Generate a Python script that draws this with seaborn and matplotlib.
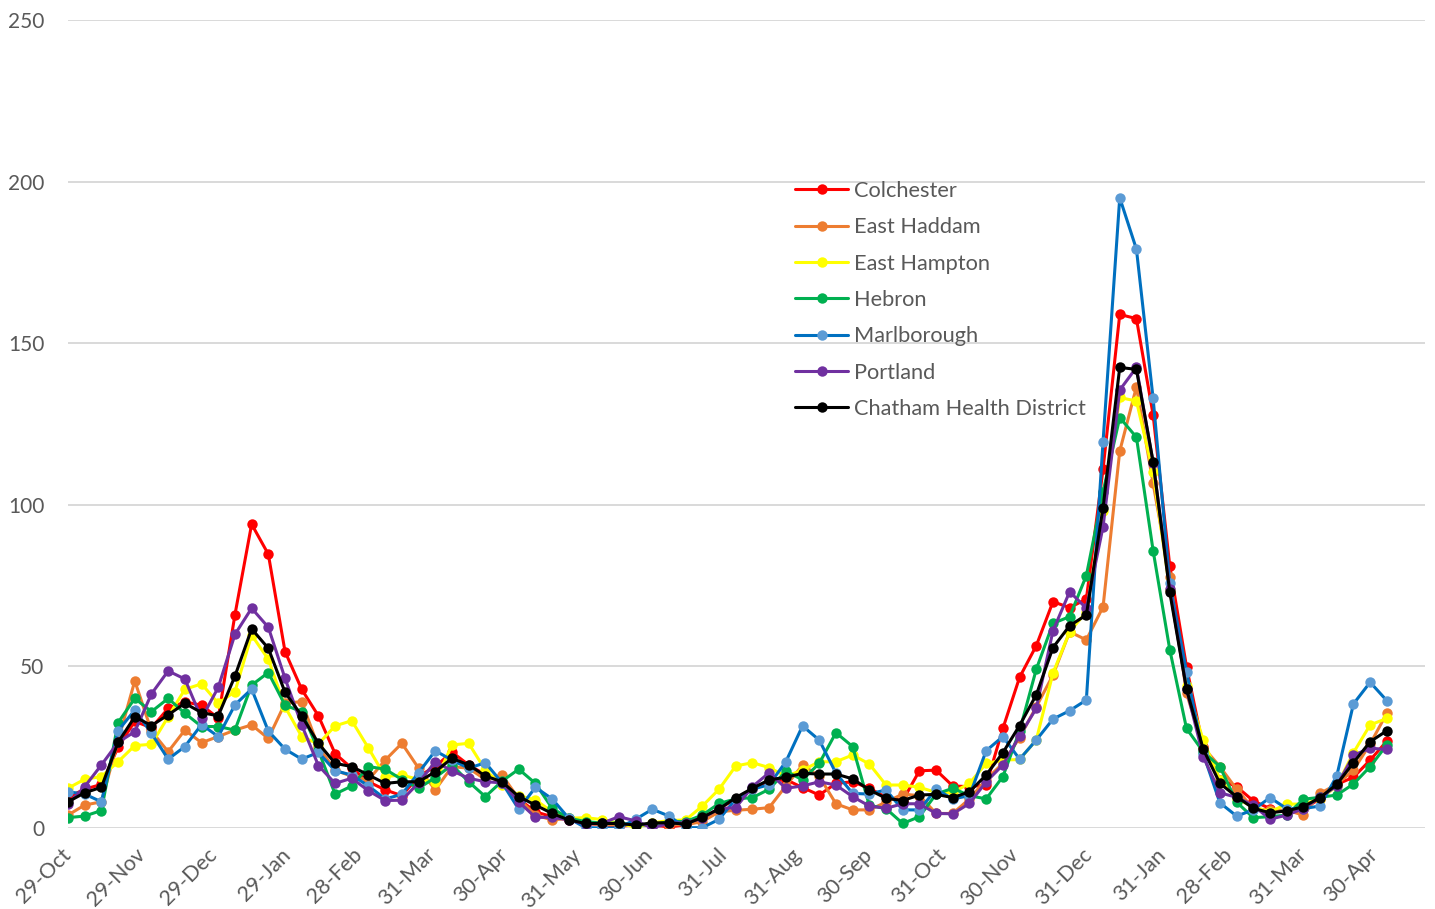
import pandas as pd
import matplotlib
matplotlib.use("Agg")
import matplotlib.pyplot as plt
import matplotlib.dates as mdates
import seaborn as sns

# weekly case rates, first week starting 29-Oct-2020
first_week = "2020-10-29"
n_weeks = 80

colchester = [9.5, 12, 13.5, 25, 33, 31, 37, 39, 38, 34,
              66, 94, 84.7, 54.6, 42.9, 34.7, 23, 18.5, 14.3, 11.8,
              10, 16, 19, 23.5, 19.5, 16.5, 14, 9, 5, 3.5,
              2.5, 1.5, 1, 0.5, 1, 1, 0.3, 1, 3, 6,
              9, 12, 14.5, 15, 12.5, 10.2, 13.8, 14.3, 12.3, 9.5,
              8.5, 17.7, 17.9, 13, 12.8, 13.3, 30.8, 46.6, 56.4, 70,
              68.2, 70.8, 111, 158.9, 157.6, 127.8, 81, 49.9, 25, 15,
              12.8, 8.4, 6, 5, 6, 9, 13.5, 15.7, 21, 26.9]
east_haddam = [4, 7.1, 8.1, 27, 45.5, 30, 23.6, 30.3, 26.4, 28.3,
               30.3, 31.9, 27.7, 38.6, 39.1, 25, 17.9, 16, 14.9, 21,
               26.2, 18.5, 11.8, 19, 18.5, 15, 16.4, 9, 4, 2.5,
               3, 1.5, 1, 1, 1, 1, 1, 1, 2, 5,
               5.5, 5.8, 6.3, 13, 19.5, 16, 7.5, 5.6, 5.6, 8,
               10.5, 10, 4.5, 4.5, 9, 15, 20, 28, 37.5, 47.3,
               60.7, 58.2, 68.4, 116.6, 136.5, 106.6, 77.8, 41.7, 25, 19,
               12, 6, 5.5, 5.5, 4, 10.7, 13.5, 17.9, 26, 35.5]
east_hampton = [12.3, 15.1, 15.9, 20.5, 25.5, 25.9, 34.4, 42.9, 44.6, 38.6,
                42.2, 59.7, 52.2, 37.5, 28.3, 26, 31.6, 33.2, 24.7, 15.9,
                16.4, 15, 14.3, 25.7, 26.2, 17.9, 13.3, 10, 8.7, 5,
                3, 3.2, 2.6, 1.5, 0.2, 1.6, 2.3, 2.5, 6.8, 12,
                19.2, 20.2, 18.7, 16, 17.9, 20.5, 20.5, 22.6, 19.8, 13.3,
                13.3, 12.6, 11, 11, 13.8, 20, 21, 21.2, 27.2, 47.9,
                60.7, 66.9, 98, 133.2, 132.1, 110, 73.6, 44, 27.2, 15,
                9.1, 6.5, 5, 7.4, 7.4, 9, 13, 23.3, 31.9, 33.9]
hebron = [3.2, 3.7, 5.4, 32.6, 40.1, 36, 40.1, 35.5, 31.4, 31.4,
          30.3, 44.2, 48.1, 38, 36, 24, 10.5, 13, 19, 18.2,
          15, 12.3, 15.6, 19.5, 14.3, 9.7, 14.5, 18.2, 13.8, 6.1,
          3, 2, 1.5, 1.5, 1, 1, 2, 2, 4, 7.6,
          9, 9.4, 12, 17.6, 14.9, 20, 29.5, 25.2, 7, 6,
          1.4, 3.5, 10.5, 12.3, 10, 9, 15.9, 30, 49.1, 63.3,
          65.4, 78.1, 104, 127, 120.9, 85.8, 55.1, 30.8, 23.6, 19,
          8, 3.2, 3.5, 4, 8.9, 9.5, 10.2, 13.6, 19, 25.7]
marlborough = [11.2, 10.5, 8.1, 30.1, 36.5, 29.3, 21.3, 25.2, 32, 28.3,
               38.1, 43, 30, 24.4, 21.3, 23.4, 17.7, 16.4, 13, 9,
               10.4, 17.1, 23.9, 21, 18.5, 20.2, 14, 5.8, 12.6, 9,
               3, 0.1, 0, 0, 2.7, 5.8, 3.7, 0.1, 0.1, 2.7,
               9, 12, 13.4, 20.5, 31.6, 27.2, 17, 10.7, 10.5, 11.8,
               5.6, 5.6, 12, 9, 10, 23.9, 28.3, 21.3, 27.2, 33.7,
               36.3, 39.6, 119.5, 195, 179.1, 132.9, 75.7, 48.4, 23, 7.8,
               3.7, 5.6, 9.4, 6, 6, 6.8, 16.1, 38.4, 45.1, 39.4]
portland = [7.4, 12.8, 19.5, 26.5, 29.8, 41.5, 48.6, 46.1, 33.9, 43.5,
            59.9, 68, 62.1, 46.3, 31.9, 19.3, 13.8, 15.4, 11.5, 8.5,
            8.6, 14, 20.5, 17.7, 15.4, 14.3, 14, 8.1, 3.3, 3.3,
            2.5, 1.2, 1.5, 3.5, 2.2, 0, 1.5, 1.6, 3, 6,
            6.3, 12.8, 17.1, 12.3, 13, 14.3, 13.3, 9.7, 6.8, 6.1,
            7.5, 7.5, 4.5, 4.4, 7.6, 14.3, 19.5, 28.5, 37, 61,
            73.1, 68, 93.2, 135.5, 142.5, 113, 74, 43, 22.1, 10.9,
            9.5, 7, 2.7, 4, 6, 9.5, 13, 22.5, 24.7, 24.3]
chatham = [8.1, 10.9, 12.6, 26.5, 34.4, 31.7, 35, 38.6, 35.7, 34.7,
           47, 61.6, 55.6, 42, 34.7, 26.2, 20, 19, 16.4, 13.8,
           14.3, 14.3, 17.4, 21.6, 19.5, 16.1, 14.3, 9.7, 7.1, 4.5,
           2.5, 1.4, 1.4, 1.4, 0.9, 1.6, 1.6, 1.2, 3.3, 5.9,
           9.4, 12.3, 14.9, 15.7, 16.9, 16.7, 16.7, 15.2, 11.8, 9.2,
           8.5, 10.2, 10.4, 9.4, 11.2, 16.4, 23.3, 31.7, 41.2, 55.8,
           62.6, 65.9, 99.1, 142.5, 141.9, 113.3, 72.9, 43, 24.4, 13.8,
           9.7, 6.1, 4.7, 5.3, 6.6, 9.4, 13.5, 20.2, 26.7, 30.1]

series_names = ["Colchester", "East Haddam", "East Hampton", "Hebron",
                "Marlborough", "Portland", "Chatham Health District"]
line_colors = ["#FF0000", "#ED7D31", "#FFFF00", "#00B050", "#0070C0", "#7030A0", "#000000"]
marker_colors = ["#FF0000", "#ED7D31", "#FFFF00", "#00B050", "#5B9BD5", "#7030A0", "#000000"]

tick_dates = ["2020-10-29", "2020-11-29", "2020-12-29", "2021-01-29", "2021-02-28",
              "2021-03-31", "2021-04-30", "2021-05-31", "2021-06-30", "2021-07-31",
              "2021-08-31", "2021-09-30", "2021-10-31", "2021-11-30", "2021-12-31",
              "2022-01-31", "2022-02-28", "2022-03-31", "2022-04-30"]

weeks = pd.date_range(first_week, periods=n_weeks, freq="7D")
df = pd.DataFrame({"week": weeks})
for name, vals in zip(series_names, [colchester, east_haddam, east_hampton, hebron,
                                     marlborough, portland, chatham]):
    df[name] = vals

sns.set_style("white")
plt.rcParams["font.family"] = ["Lato", "DejaVu Sans"]

fig = plt.figure(figsize=(14.35, 9.09), dpi=100)
ax = fig.add_axes([68 / 1435, 1 - 828 / 909, (1425 - 68) / 1435, (828 - 20) / 909])

for name, lc, mc in zip(series_names, line_colors, marker_colors):
    sns.lineplot(data=df, x="week", y=name, ax=ax, color=lc, linewidth=2.2,
                 marker="o", markersize=7.5, markerfacecolor=mc,
                 markeredgecolor=mc, markeredgewidth=0, label=name)

ax.set_ylim(0, 250)
ax.set_yticks([0, 50, 100, 150, 200, 250])
start = pd.Timestamp(first_week)
ax.set_xlim(start, start + pd.Timedelta(days=569))
ax.set_xticks(pd.to_datetime(tick_dates))
ax.xaxis.set_major_formatter(mdates.DateFormatter("%d-%b"))

ax.grid(axis="y", color="#D9D9D9", linewidth=1.4)
ax.set_axisbelow(True)
for s in ax.spines.values():
    s.set_visible(False)
ax.set_xlabel("")
ax.set_ylabel("")

ax.tick_params(axis="y", length=0, pad=17, labelsize=15, labelcolor="#595959")
ax.tick_params(axis="x", length=0, pad=17, labelsize=15.5, labelcolor="#595959")
for lbl in ax.get_xticklabels():
    lbl.set_rotation(45)
    lbl.set_ha("right")
    lbl.set_va("center")
    lbl.set_rotation_mode("anchor")

leg = ax.legend(loc="upper left", bbox_to_anchor=((795 - 68) / 1357, (828 - 181) / 808),
                frameon=False, fontsize=15.7, handlelength=2.45, handletextpad=0.25,
                labelspacing=0.75, borderpad=0, borderaxespad=0)
for t in leg.get_texts():
    t.set_color("#595959")

fig.savefig("out.png", dpi=100)
